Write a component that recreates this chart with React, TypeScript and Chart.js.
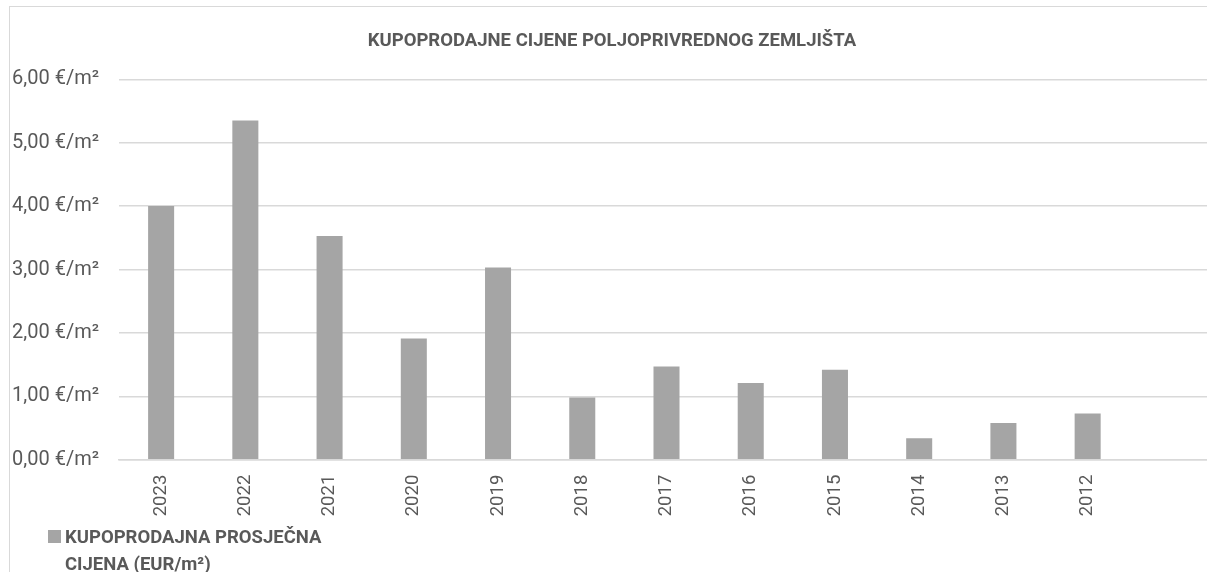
import React, { useEffect, useRef } from "react";
import { Chart, registerables } from "chart.js";
Chart.register(...registerables);

const TITLE = "KUPOPRODAJNE CIJENE POLJOPRIVREDNOG ZEMLJIŠTA";
const SERIES_LABEL = ["KUPOPRODAJNA PROSJEČNA", "CIJENA (EUR/m²)"];
const YEARS = ["2023", "2022", "2021", "2020", "2019", "2018", "2017", "2016", "2015", "2014", "2013", "2012", ""];
const PRICES = [4.0, 5.35, 3.53, 1.91, 3.03, 0.98, 1.47, 1.21, 1.42, 0.34, 0.58, 0.73, null];
const Y_TICKS = [0, 1, 2, 3, 4, 5, 6];

const FONT = "Roboto";
const TEXT = "#595959";
const GRID = "#d9d9d9";
const BAR = "#a5a5a5";

const CW = 1204;
const CH = 590;

const legendPlugin = {
  id: "wrappedLegend",
  afterDraw(chart: any) {
    const ctx = chart.ctx;
    ctx.save();
    ctx.fillStyle = BAR;
    ctx.fillRect(38, 523, 13, 13);
    ctx.fillStyle = TEXT;
    ctx.font = `bold 18.5px ${FONT}`;
    ctx.textBaseline = "alphabetic";
    ctx.textAlign = "left";
    const label = chart.data.datasets[0].label as string[];
    label.forEach((line: string, i: number) => {
      ctx.fillText(line, 55, 536.3 + i * 26.2);
    });
    ctx.restore();
  },
};

export default function App() {
  const ref = useRef<HTMLCanvasElement>(null);
  useEffect(() => {
    if (!ref.current) return;
    const chart = new Chart(ref.current, {
      type: "bar",
      data: {
        labels: YEARS,
        datasets: [
          {
            label: SERIES_LABEL as any,
            data: PRICES as any,
            backgroundColor: BAR,
            borderWidth: 0,
            categoryPercentage: 1,
            barPercentage: 0.309,
          },
        ],
      },
      options: {
        responsive: false,
        animation: false,
        devicePixelRatio: 1,
        layout: { padding: { left: 0, right: 0, top: 0, bottom: 77.3 } },
        plugins: {
          legend: { display: false },
          tooltip: { enabled: false },
          title: {
            display: true,
            text: TITLE,
            color: TEXT,
            font: { family: FONT, size: 18.5, weight: "bold", lineHeight: 1.2 },
            padding: { top: 23.4, bottom: 26.7 },
          },
        },
        scales: {
          x: {
            grid: { display: false, drawTicks: false },
            border: { display: true, color: GRID, width: 1.5 },
            ticks: {
              color: TEXT,
              font: { family: FONT, size: 18.5 },
              minRotation: 90,
              maxRotation: 90,
              padding: 15,
              autoSkip: false,
            },
            afterFit(scale: any) {
              scale.height = 60;
              scale.paddingLeft = 0;
              scale.paddingRight = 0;
            },
          },
          y: {
            min: Y_TICKS[0],
            max: Y_TICKS[Y_TICKS.length - 1],
            grid: { color: GRID, lineWidth: 1.5, drawTicks: false },
            border: { display: false },
            afterBuildTicks(scale: any) {
              scale.ticks = Y_TICKS.map((v) => ({ value: v }));
            },
            ticks: {
              color: TEXT,
              font: { family: FONT, size: 20 },
              padding: 20,
              callback: (v: any) => Number(v).toFixed(2).replace(".", ",") + " €/m²",
            },
            afterFit(scale: any) {
              scale.width = 109;
              scale.paddingTop = 0;
              scale.paddingBottom = 0;
            },
          },
        },
      },
      plugins: [legendPlugin],
    });
    return () => chart.destroy();
  }, []);

  return (
    <div style={{ position: "absolute", left: 0, top: 0, width: 1207, height: 572, overflow: "hidden", background: "#fff" }}>
      <div
        style={{
          position: "absolute",
          left: 9,
          top: 6,
          width: CW,
          height: CH,
          border: `1px solid ${GRID}`,
        }}
      >
        <canvas ref={ref} width={CW} height={CH} style={{ display: "block", width: CW, height: CH }} />
      </div>
    </div>
  );
}
